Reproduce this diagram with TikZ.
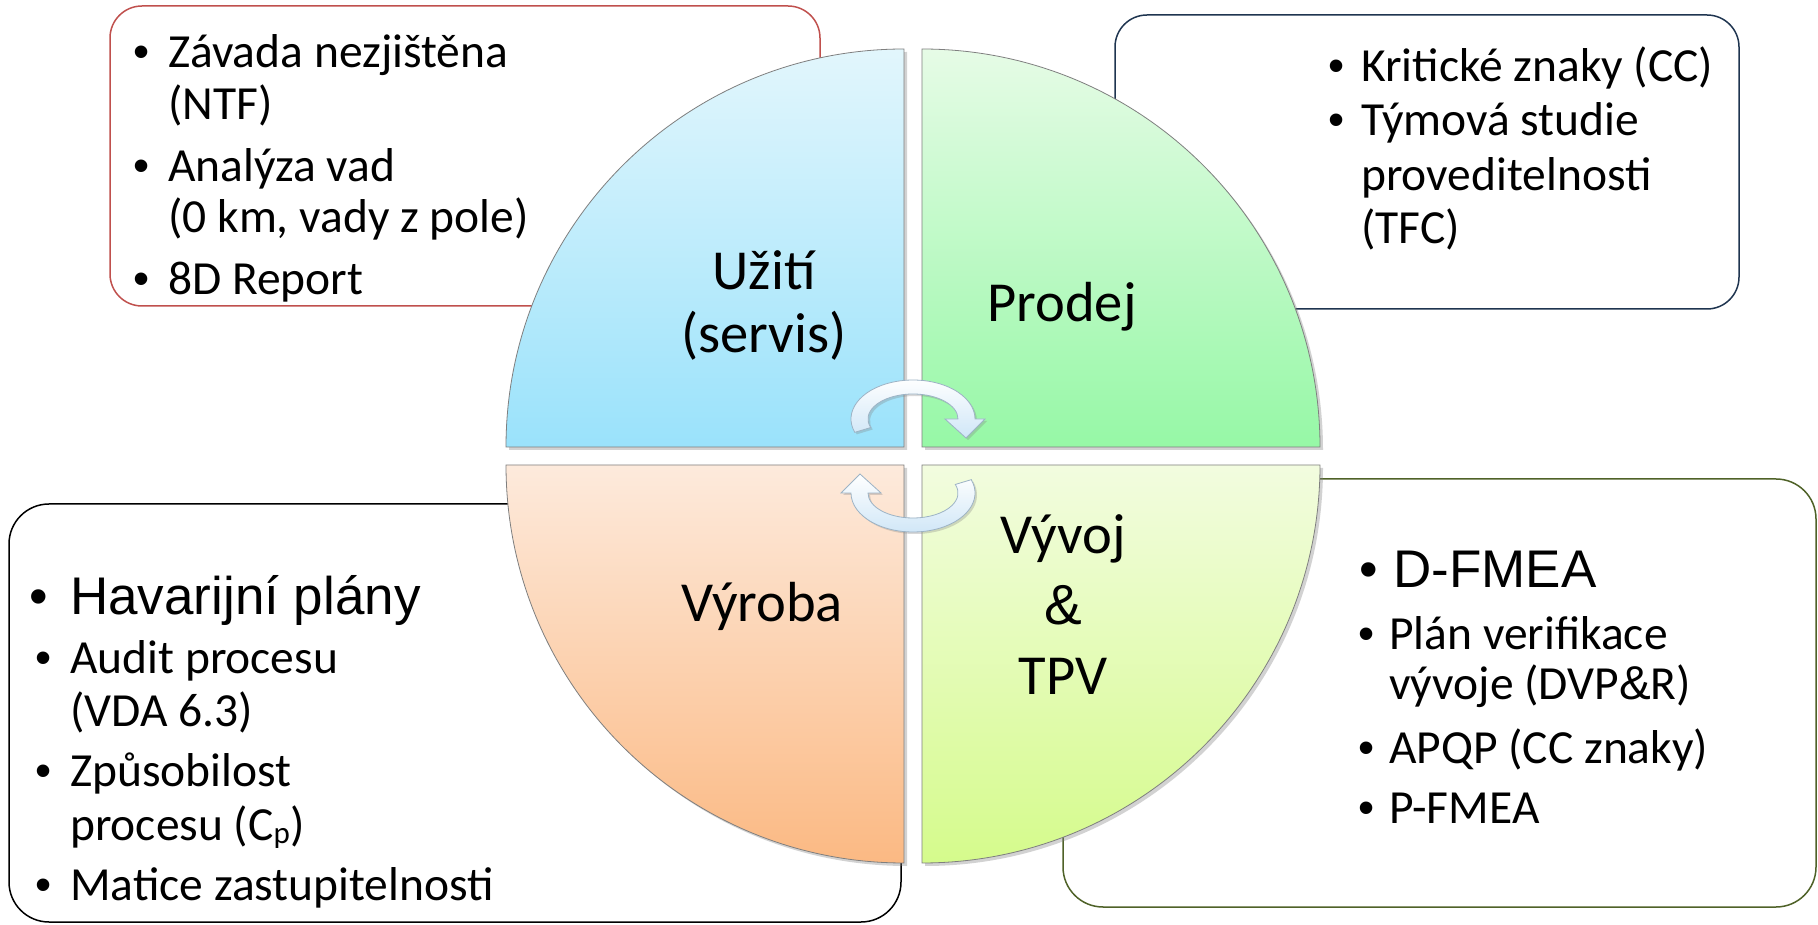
\documentclass[tikz,border=0pt]{standalone}
\usepackage{fontspec}
\setmainfont{Carlito}
\newfontfamily\arialfont{Liberation Sans}
\usetikzlibrary{shadows}
\definecolor{boxred}{HTML}{C0504D}
\definecolor{boxnavy}{HTML}{1F3550}
\definecolor{boxolive}{HTML}{4F6228}
\definecolor{bluetop}{HTML}{E2F6FC}
\definecolor{bluebot}{HTML}{9AE2FB}
\definecolor{greentop}{HTML}{E6FBE6}
\definecolor{greenbot}{HTML}{96F8A6}
\definecolor{orangetop}{HTML}{FDEADC}
\definecolor{orangebot}{HTML}{FBB983}
\definecolor{limetop}{HTML}{F2FCDF}
\definecolor{limebot}{HTML}{D5FB8C}
\definecolor{quadline}{HTML}{7F7F7F}
\definecolor{arrowblue}{HTML}{CFE6F7}
\definecolor{arrowline}{HTML}{9DB3C5}
\begin{document}
\begin{tikzpicture}[x=1pt,y=1pt,
  box/.style={line width=1.5pt, rounded corners=32pt},
  quad/.style={draw=quadline, line width=0.8pt,
    drop shadow={shadow xshift=3pt, shadow yshift=-3pt, opacity=0.35}},
  circarrow/.style={draw=arrowline, line width=0.8pt, top color=white, bottom color=arrowblue,
    drop shadow={shadow xshift=2pt, shadow yshift=-2pt, opacity=0.3}},
  txt/.style={anchor=base west, inner sep=0pt, font=\fontsize{47.5}{54}\selectfont},
  bul/.style={anchor=base west, inner sep=0pt, font=\arialfont\fontsize{46}{54}\selectfont},
  bigtxt/.style={anchor=base west, inner sep=0pt, font=\arialfont\fontsize{53}{60}\selectfont},
  qlabel/.style={anchor=base, inner sep=0pt, font=\fontsize{56.5}{64}\selectfont}]
\useasboundingbox (0,0) rectangle (1818,924);
\fill[white] (0,0) rectangle (1818,924);

% boxes
\draw[box, draw=boxred] (110,618) rectangle (820,918);
\draw[box, draw=boxnavy] (1115,615) rectangle (1739,909);
\draw[box, draw=black, rounded corners=40pt] (9,2) rectangle (901,420);
\draw[box, draw=boxolive, rounded corners=40pt] (1063,17) rectangle (1816,445);

% quadrants
\path[quad, top color=bluetop, bottom color=bluebot] (904,477) -- (506,477) arc[start angle=180, end angle=90, radius=398] -- cycle;
\path[quad, top color=greentop, bottom color=greenbot] (922,477) -- (922,875) arc[start angle=90, end angle=0, radius=398] -- cycle;
\path[quad, top color=orangetop, bottom color=orangebot] (904,459) -- (506,459) arc[start angle=180, end angle=270, radius=398] -- cycle;
\path[quad, top color=limetop, bottom color=limebot] (922,459) -- (1320,459) arc[start angle=0, end angle=-90, radius=398] -- cycle;

% circular arrows
\path[circarrow] (913,505) ++(200:62 and 39) arc[start angle=200, end angle=0, x radius=62, y radius=39]
  -- (985,505) -- (966,486) -- (945,505) -- (958,505)
  arc[start angle=0, end angle=200, x radius=45, y radius=25] -- cycle;
\begin{scope}[rotate around={180:(913,468)}]
\path[circarrow] (913,505) ++(200:62 and 39) arc[start angle=200, end angle=0, x radius=62, y radius=39]
  -- (985,505) -- (966,486) -- (945,505) -- (958,505)
  arc[start angle=0, end angle=200, x radius=45, y radius=25] -- cycle;
\end{scope}

% quadrant labels
\node[qlabel] (q1a) at (764,634) {Užití};
\node[qlabel] (q1b) at (764,571) {(servis)};
\node[qlabel] (q2) at (1062,602) {Prodej};
\node[qlabel] (q3) at (762,302) {Výroba};
\node[qlabel] (q4a) at (1063,370) {Vývoj};
\node[qlabel] (q4b) at (1063,299) {\arialfont\&};
\node[qlabel] (q4c) at (1063,229) {TPV};

% red box text
\node[bul] (r1b) at (133,856) {•};
\node[txt] (r1) at (168,856) {Závada nezjištěna};
\node[txt] (r2) at (168,804) {(NTF)};
\node[bul] (r3b) at (133,742) {•};
\node[txt] (r3) at (168,742) {Analýza vad};
\node[txt] (r4) at (168,691) {(0 km, vady z pole)};
\node[bul] (r5b) at (133,629) {•};
\node[txt] (r5) at (168,629) {8D Report};

% navy box text
\node[bul] (n1b) at (1328,842) {•};
\node[txt] (n1) at (1361,842) {Kritické znaky (CC)};
\node[bul] (n2b) at (1328,788) {•};
\node[txt] (n2) at (1361,788) {Týmová studie};
\node[txt] (n3) at (1361,733) {proveditelnosti};
\node[txt] (n4) at (1361,680) {(TFC)};

% black box text
\node[bigtxt] (k1b) at (29,309) {•};
\node[bigtxt] (k1) at (70,309) {Havarijní plány};
\node[bul] (k2b) at (35,250) {•};
\node[txt] (k2) at (70,250) {Audit procesu};
\node[txt] (k3) at (70,197) {(VDA 6.3)};
\node[bul] (k4b) at (35,137) {•};
\node[txt] (k4) at (70,137) {Způsobilost};
\node[txt] (k5) at (70,84) {procesu (C\raisebox{-3pt}{\fontsize{31}{31}\selectfont p})};
\node[bul] (k6b) at (35,24) {•};
\node[txt] (k6) at (70,24) {Matice zastupitelnosti};

% olive box text
\node[bigtxt] (o1b) at (1359,336) {•};
\node[bigtxt] (o1) at (1393,336) {D-FMEA};
\node[bul] (o2b) at (1358,274) {•};
\node[txt] (o2) at (1389,274) {Plán verifikace};
\node[txt] (o3) at (1389,224) {vývoje (DVP{\arialfont\&}R)};
\node[bul] (o4b) at (1358,160) {•};
\node[txt] (o4) at (1389,160) {APQP (CC znaky)};
\node[bul] (o5b) at (1358,100) {•};
\node[txt] (o5) at (1389,100) {P-FMEA};
\end{tikzpicture}
\end{document}
